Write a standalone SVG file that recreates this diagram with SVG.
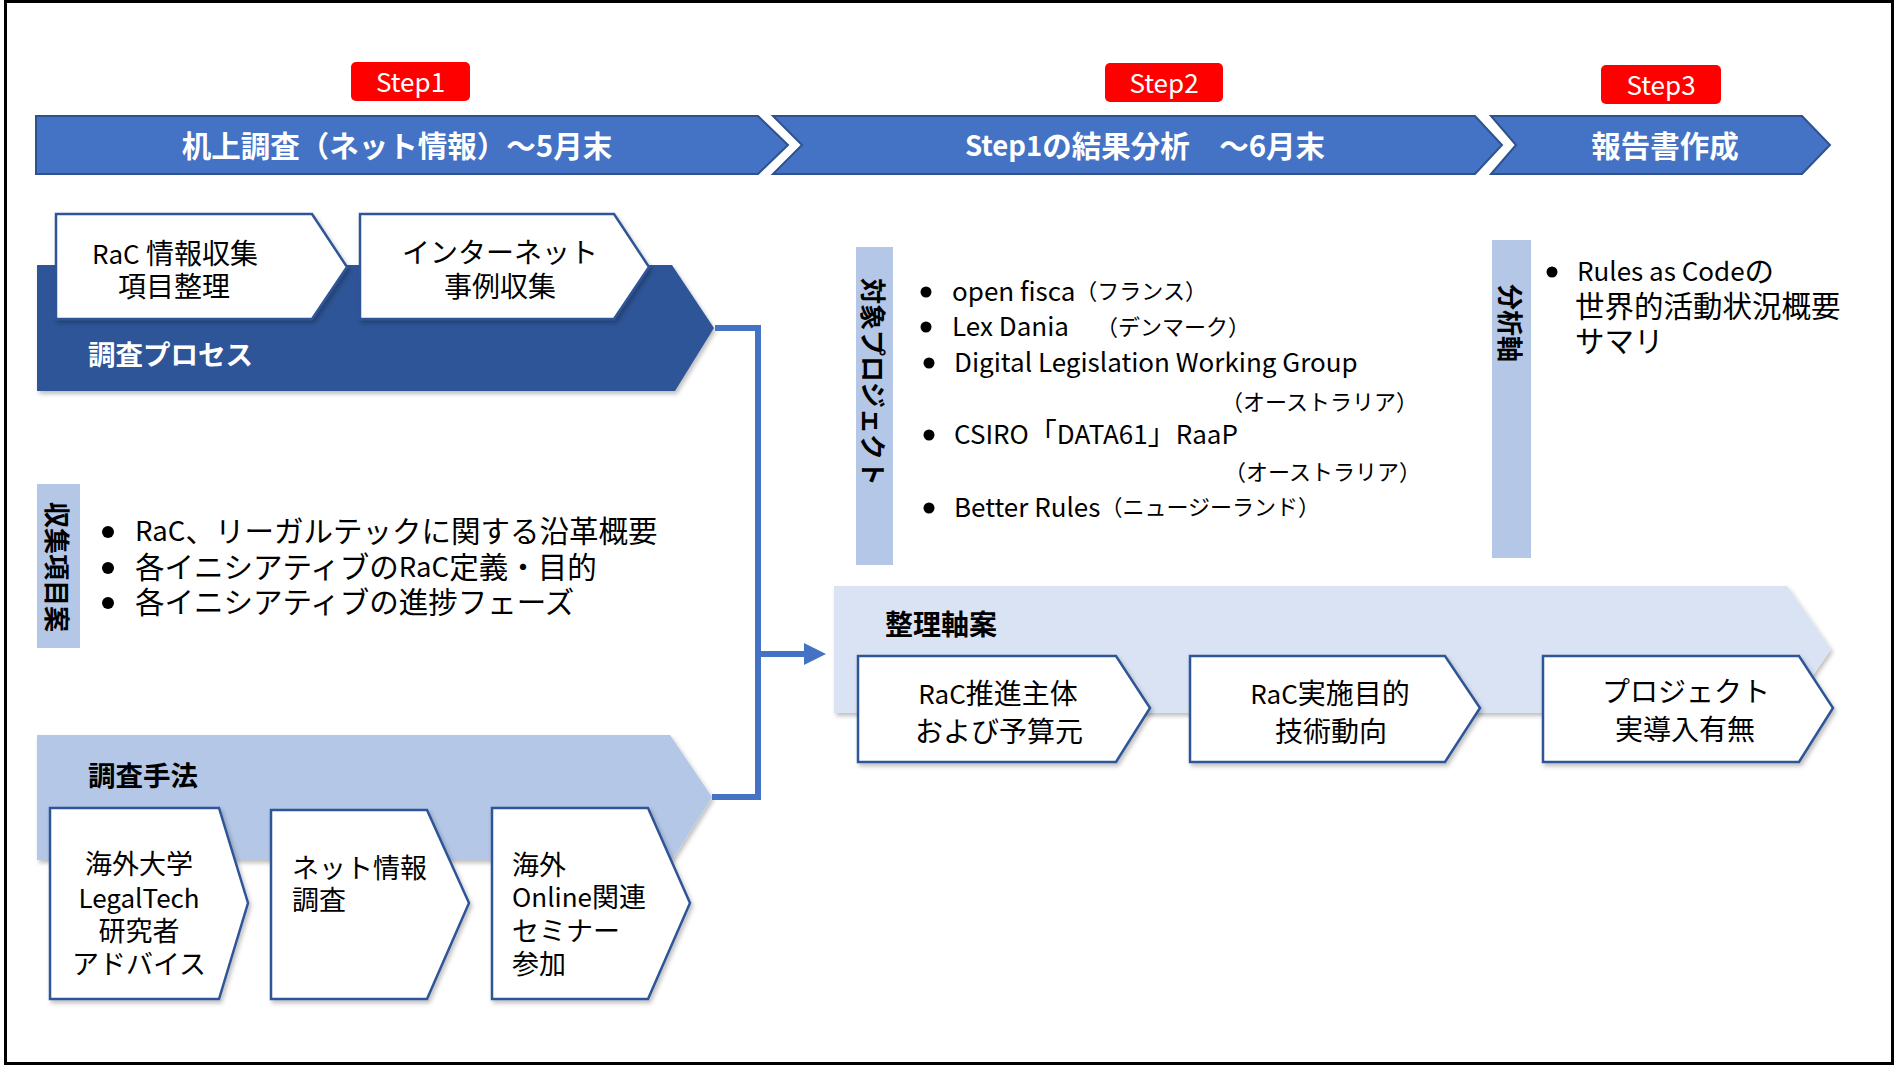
<svg xmlns="http://www.w3.org/2000/svg" width="1895" height="1066" viewBox="0 0 1895 1066">
<style>
text{font-family:"Noto Sans CJK JP","Noto Sans",sans-serif;dominant-baseline:central}
.bw{fill:#fff;font-weight:bold;font-size:29.5px;text-anchor:middle}
.step{fill:#fff;font-size:26px;text-anchor:middle}
.n{fill:#000;font-size:28px}
.p{fill:#000;font-size:29.5px}
.m{fill:#000;font-size:27px}
.l{font-size:26px}
.l2{font-size:27.5px}
.lb{font-size:28px}
.c{text-anchor:middle}
.hb{font-weight:bold;font-size:27.5px}
.vt{fill:#000;font-weight:bold;font-size:26px;text-anchor:middle}
.sm{font-size:22px}
.box{fill:#fff;stroke:#2F5597;stroke-width:2.5;filter:url(#sh)}
.arr{fill:#4472C4;stroke:#2F528F;stroke-width:2}
.badge{fill:#FF0000}
.vlab{fill:#B4C7E7}
.dot{fill:#000}
.con{fill:none;stroke:#4472C4;stroke-width:6}
</style>
<defs>
<filter id="sh" x="-10%" y="-10%" width="125%" height="130%">
<feDropShadow dx="2" dy="3" stdDeviation="2" flood-color="#000" flood-opacity="0.25"/>
</filter>
<marker id="ah" markerUnits="userSpaceOnUse" viewBox="0 0 22 24" markerWidth="22" markerHeight="24" refX="8" refY="12" orient="auto">
<path d="M0,1 L22,12 L0,23 z" fill="#4472C4"/>
</marker>
</defs>
<rect x="5.5" y="1.5" width="1887" height="1062" fill="#fff" stroke="#000" stroke-width="3"/>

<g id="step-badges">
<g id="step1"><rect class="badge" x="351" y="62" width="119" height="39" rx="5"/><text class="step" x="410.5" y="80">Step1</text></g>
<g id="step2"><rect class="badge" x="1105" y="63" width="118" height="39" rx="5"/><text class="step" x="1164" y="81">Step2</text></g>
<g id="step3"><rect class="badge" x="1601" y="65" width="120" height="39" rx="5"/><text class="step" x="1661" y="83">Step3</text></g>
</g>

<g id="phase1"><polygon class="arr" points="36,116 758,116 788,145 758,174 36,174"/><text class="bw" x="397" y="144">机上調査（ネット情報）～5月末</text></g>
<g id="phase2"><polygon class="arr" points="773,116 1475,116 1502,145 1475,174 773,174 802,145"/><text class="bw" x="1145" y="144"><tspan font-size="27.5px">Step1</tspan>の結果分析　～6月末</text></g>
<g id="phase3"><polygon class="arr" points="1491,116 1802,116 1830,145 1802,174 1491,174 1516,145"/><text class="bw" x="1665" y="144">報告書作成</text></g>

<g id="process">
<polygon points="37,265 672,265 714,328 675,391 37,391" fill="#2F5597" filter="url(#sh)"/>
<text class="hb" x="88" y="353" fill="#fff">調査プロセス</text>
</g>
<g id="process-1"><polygon class="box" points="56,214 312,214 347,267 312,319 56,319"/>
<text class="n c" x="175" y="252"><tspan class="l">RaC</tspan> 情報収集</text><text class="n c" x="174" y="285">項目整理</text></g>
<g id="process-2"><polygon class="box" points="360,214 614,214 649,267 614,319 360,319"/>
<text class="n c" x="500" y="251">インターネット</text><text class="n c" x="500" y="285">事例収集</text></g>

<g id="items">
<rect class="vlab" x="37" y="484" width="43" height="164"/>
<text class="vt" transform="translate(58,567) rotate(90)" x="0" y="0">収集項目案</text>
<circle class="dot" cx="108" cy="532" r="6"/><text class="p" x="135" y="529"><tspan class="l2">RaC</tspan>、リーガルテックに関する沿革概要</text>
<circle class="dot" cx="108" cy="568" r="6"/><text class="p" x="135" y="565">各イニシアティブの<tspan class="l2">RaC</tspan>定義・目的</text>
<circle class="dot" cx="108" cy="603" r="6"/><text class="p" x="135" y="600">各イニシアティブの進捗フェーズ</text>
</g>

<g id="method">
<polygon points="37,735 670,735 712,797 672,860 37,860" fill="#B4C7E7" filter="url(#sh)"/>
<text class="hb" x="88" y="774" fill="#000">調査手法</text>
</g>
<g id="method-1"><polygon class="box" points="50,808 219,808 248,903 219,999 50,999"/>
<text class="m c" x="139" y="862">海外大学</text><text class="m c l" x="139" y="896">LegalTech</text><text class="m c" x="139" y="929">研究者</text><text class="m c" x="139" y="962">アドバイス</text></g>
<g id="method-2"><polygon class="box" points="271,810 427,810 469,903 427,999 271,999"/>
<text class="m" x="292" y="866">ネット情報</text><text class="m" x="292" y="898">調査</text></g>
<g id="method-3"><polygon class="box" points="492,808 648,808 690,903 648,999 492,999"/>
<text class="m" x="512" y="863">海外</text><text class="m" x="512" y="895"><tspan class="l">Online</tspan>関連</text><text class="m" x="512" y="929">セミナー</text><text class="m" x="512" y="962">参加</text></g>

<g id="targets">
<rect class="vlab" x="856" y="247" width="37" height="318"/>
<text class="vt" transform="translate(874,382) rotate(90)" x="0" y="0">対象プロジェクト</text>
<circle class="dot" cx="926" cy="292" r="5.5"/><text class="n l" x="952" y="289">open fisca<tspan class="sm">（フランス）</tspan></text>
<circle class="dot" cx="926" cy="327" r="5.5"/><text class="n l" x="952" y="324">Lex Dania</text><text class="n sm" x="1096" y="325">（デンマーク）</text>
<circle class="dot" cx="929" cy="363" r="5.5"/><text class="n l" x="954" y="360">Digital Legislation Working Group</text>
<text class="n sm" x="1221" y="400">（オーストラリア）</text>
<circle class="dot" cx="929" cy="435" r="5.5"/><text class="n l" x="954" y="432">CSIRO<tspan class="lb">「</tspan>DATA61<tspan class="lb">」</tspan>RaaP</text>
<text class="n sm" x="1224" y="470">（オーストラリア）</text>
<circle class="dot" cx="929" cy="508" r="5.5"/><text class="n l" x="954" y="505">Better Rules<tspan class="sm">（ニュージーランド）</tspan></text>
</g>

<g id="analysis">
<rect class="vlab" x="1492" y="240" width="39" height="318"/>
<text class="vt" transform="translate(1511,323) rotate(90)" x="0" y="0">分析軸</text>
<circle class="dot" cx="1552" cy="272" r="5.5"/><text class="p" x="1577" y="269"><tspan class="l">Rules as Code</tspan>の</text>
<text class="p" x="1575" y="304">世界的活動状況概要</text>
<text class="p" x="1575" y="339">サマリ</text>
</g>

<g id="axes">
<polygon points="834,586 1787,586 1831,649 1787,713 834,713" fill="#DAE3F3" filter="url(#sh)"/>
<text class="n" x="885" y="623" font-weight="bold">整理軸案</text>
</g>
<g id="axis-1"><polygon class="box" points="858,656 1116,656 1150,708 1116,762 858,762"/>
<text class="n c" x="998" y="692"><tspan class="l">RaC</tspan>推進主体</text><text class="n c" x="999" y="730">および予算元</text></g>
<g id="axis-2"><polygon class="box" points="1190,656 1445,656 1480,708 1445,762 1190,762"/>
<text class="n c" x="1330" y="692"><tspan class="l">RaC</tspan>実施目的</text><text class="n c" x="1331" y="730">技術動向</text></g>
<g id="axis-3"><polygon class="box" points="1543,656 1799,656 1833,708 1799,762 1543,762"/>
<text class="n c" x="1686" y="690">プロジェクト</text><text class="n c" x="1685" y="728">実導入有無</text></g>

<g id="connectors">
<path class="con" d="M715,328 H758 V797 H712"/>
<path class="con" d="M758,654 H812" marker-end="url(#ah)"/>
</g>
</svg>
